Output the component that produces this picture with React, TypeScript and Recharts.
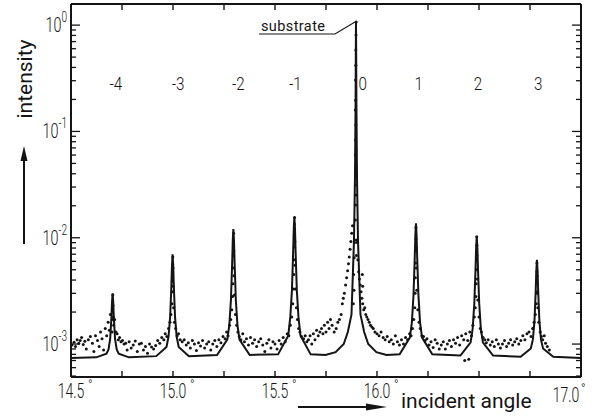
import React from 'react';
import { ComposedChart, Line, Scatter, XAxis, YAxis } from 'recharts';

// ---- specular (solid line) profile: [incident angle (deg), intensity]
const specularProfile: [number, number][] = [
  [14.5, 0.00074],
  [14.624, 0.00075], [14.674, 0.00081], [14.684, 0.00089], [14.692, 0.00112], [14.698, 0.00175], [14.701, 0.00247],
  [14.704, 0.003], [14.707, 0.00247], [14.71, 0.00175], [14.716, 0.00112], [14.724, 0.00089], [14.734, 0.00081], [14.784, 0.00075],
  [14.918, 0.00077], [14.968, 0.00094], [14.978, 0.00117], [14.986, 0.0018], [14.992, 0.0035], [14.995, 0.0055],
  [14.998, 0.007], [15.001, 0.0055], [15.004, 0.0035], [15.01, 0.0018], [15.018, 0.00117], [15.028, 0.00094], [15.078, 0.00077],
  [15.216, 0.00079], [15.266, 0.0011], [15.276, 0.0015], [15.284, 0.0026], [15.29, 0.0058], [15.293, 0.0094],
  [15.296, 0.0121], [15.299, 0.0094], [15.302, 0.0058], [15.308, 0.0026], [15.316, 0.0015], [15.326, 0.0011], [15.376, 0.00079],
  [15.515, 0.0008], [15.565, 0.0012], [15.575, 0.0018], [15.583, 0.0032], [15.589, 0.0074], [15.592, 0.0122],
  [15.595, 0.0157], [15.598, 0.0122], [15.601, 0.0074], [15.607, 0.0032], [15.615, 0.0018], [15.625, 0.0012], [15.675, 0.0008],
  [15.747, 0.00079], [15.797, 0.00084], [15.837, 0.001], [15.857, 0.0013], [15.875, 0.0019], [15.887, 0.0092], [15.892, 0.036],
  [15.895, 0.19], [15.896, 0.5], [15.897, 1.07], [15.898, 0.5], [15.899, 0.19], [15.902, 0.036], [15.907, 0.0092],
  [15.919, 0.0019], [15.937, 0.0013], [15.957, 0.001], [15.997, 0.00084], [16.047, 0.00079],
  [16.111, 0.0008], [16.161, 0.00115], [16.171, 0.0016], [16.179, 0.0029], [16.185, 0.0065], [16.188, 0.0106],
  [16.191, 0.0137], [16.194, 0.0106], [16.197, 0.0065], [16.203, 0.0029], [16.211, 0.0016], [16.221, 0.00115], [16.271, 0.0008],
  [16.409, 0.00078], [16.459, 0.00104], [16.469, 0.0014], [16.477, 0.0024], [16.483, 0.0051], [16.486, 0.0081],
  [16.489, 0.0104], [16.492, 0.0081], [16.495, 0.0051], [16.501, 0.0024], [16.509, 0.0014], [16.519, 0.00104], [16.569, 0.00078],
  [16.704, 0.00076], [16.754, 0.00091], [16.764, 0.0011], [16.772, 0.00165], [16.778, 0.0032], [16.781, 0.0049],
  [16.784, 0.0062], [16.787, 0.0049], [16.79, 0.0032], [16.796, 0.00165], [16.804, 0.0011], [16.814, 0.00091], [16.864, 0.00076],
  [17.0, 0.00074],
];

// ---- measured points (dots) incl. diffuse scattering
const measuredPoints: [number, number][] = [
  [14.505, 0.00098], [14.515, 0.00104], [14.522, 0.00095], [14.53, 0.0011], [14.538, 0.00102], [14.545, 0.00108],
  [14.552, 0.00115], [14.56, 0.00099], [14.568, 0.00106], [14.575, 0.0009], [14.585, 0.0011], [14.595, 0.00118],
  [14.605, 0.00102], [14.612, 0.00085], [14.62, 0.0012], [14.63, 0.00108], [14.638, 0.00095], [14.645, 0.0013],
  [14.652, 0.00112], [14.66, 0.00088], [14.668, 0.0014], [14.675, 0.0012], [14.682, 0.0016], [14.688, 0.00135], [14.693, 0.0019],
  [14.701, 0.0013], [14.702, 0.0017], [14.703, 0.0021], [14.704, 0.0025], [14.705, 0.0029], [14.706, 0.0023], [14.707, 0.0018], [14.709, 0.0015],
  [14.714, 0.0017], [14.72, 0.0013], [14.726, 0.00125], [14.732, 0.0011], [14.738, 0.00115], [14.745, 0.00105],
  [14.752, 0.00108], [14.76, 0.001], [14.768, 0.00102], [14.775, 0.00088], [14.785, 0.00105], [14.795, 0.00092],
  [14.805, 0.00098], [14.815, 0.00107], [14.825, 0.00085], [14.835, 0.001], [14.845, 0.00102], [14.855, 0.00088],
  [14.865, 0.00095], [14.875, 0.00082], [14.885, 0.001], [14.895, 0.00094], [14.905, 0.0009], [14.915, 0.00097],
  [14.925, 0.00108], [14.935, 0.00102], [14.945, 0.00115], [14.955, 0.0011], [14.962, 0.00125], [14.97, 0.00118],
  [14.978, 0.0014], [14.985, 0.0016], [14.99, 0.0019],
  [14.995, 0.0024], [14.996, 0.0031], [14.997, 0.0039], [14.998, 0.0047], [14.998, 0.0056], [14.999, 0.0066], [15.0, 0.0052], [15.001, 0.0035], [15.003, 0.0022],
  [15.007, 0.0016], [15.013, 0.0014], [15.02, 0.0012], [15.027, 0.00125], [15.035, 0.0011], [15.045, 0.00105],
  [15.055, 0.0011], [15.065, 0.00098], [15.075, 0.00103], [15.085, 0.00092], [15.095, 0.00108], [15.105, 0.001],
  [15.115, 0.00087], [15.125, 0.00103], [15.135, 0.00096], [15.145, 0.00108], [15.155, 0.00092], [15.165, 0.001],
  [15.175, 0.00105], [15.185, 0.00088], [15.195, 0.001], [15.205, 0.00108], [15.215, 0.00095], [15.225, 0.0011],
  [15.235, 0.00103], [15.245, 0.00118], [15.255, 0.00112], [15.263, 0.0013], [15.27, 0.0012], [15.277, 0.0015],
  [15.283, 0.0017], [15.288, 0.0021],
  [15.292, 0.0028], [15.294, 0.0037], [15.295, 0.0052], [15.296, 0.0068], [15.296, 0.0088], [15.297, 0.011], [15.298, 0.0075], [15.299, 0.0044], [15.301, 0.0029],
  [15.306, 0.0019], [15.312, 0.0015], [15.318, 0.0013], [15.325, 0.00118], [15.333, 0.0011], [15.342, 0.00125],
  [15.35, 0.00105], [15.36, 0.00112], [15.37, 0.00098], [15.38, 0.00115], [15.39, 0.00102], [15.4, 0.0011],
  [15.41, 0.00095], [15.42, 0.00105], [15.43, 0.00112], [15.44, 0.00098], [15.45, 0.00085], [15.46, 0.00102],
  [15.47, 0.0011], [15.48, 0.00092], [15.49, 0.00105], [15.5, 0.001], [15.51, 0.0009], [15.52, 0.00108],
  [15.53, 0.001], [15.54, 0.00115], [15.55, 0.00105], [15.56, 0.00125], [15.568, 0.0012], [15.575, 0.0015],
  [15.582, 0.0018], [15.587, 0.0024],
  [15.591, 0.0033], [15.592, 0.0045], [15.593, 0.0062], [15.594, 0.0082], [15.595, 0.0105], [15.595, 0.0135], [15.596, 0.0155], [15.597, 0.0092], [15.598, 0.0055], [15.6, 0.0033],
  [15.605, 0.0022], [15.61, 0.0017], [15.616, 0.0014], [15.622, 0.0013], [15.63, 0.00118], [15.64, 0.00112],
  [15.648, 0.0012], [15.656, 0.00105], [15.664, 0.0011], [15.672, 0.0012], [15.68, 0.001], [15.688, 0.00125],
  [15.696, 0.0011], [15.704, 0.00135], [15.712, 0.0012], [15.72, 0.0013], [15.728, 0.0014], [15.735, 0.00125],
  [15.742, 0.0015], [15.75, 0.0013], [15.758, 0.0016], [15.765, 0.0014], [15.772, 0.0017], [15.78, 0.0015],
  [15.79, 0.0013], [15.8, 0.0014], [15.808, 0.0016], [15.816, 0.0017], [15.824, 0.0019], [15.83, 0.0024],
  [15.835, 0.0027], [15.84, 0.003], [15.846, 0.0036], [15.851, 0.0042], [15.856, 0.0049], [15.86, 0.0057],
  [15.864, 0.0066], [15.868, 0.0078], [15.872, 0.0092], [15.876, 0.011], [15.88, 0.013],
  [15.884, 0.0024], [15.885, 0.0045], [15.887, 0.0032], [15.888, 0.0065], [15.89, 0.009],
  [15.894, 0.0147], [15.895, 0.0203], [15.897, 0.0252], [15.894, 0.0313], [15.895, 0.0434], [15.894, 0.06],
  [15.895, 0.083], [15.896, 0.115], [15.894, 0.159], [15.895, 0.197], [15.895, 0.305], [15.896, 0.42],
  [15.896, 0.583], [15.897, 0.807], [15.898, 1.07], [15.898, 0.0095], [15.899, 0.0068],
  [15.903, 0.009], [15.906, 0.0062], [15.91, 0.0048], [15.914, 0.0041], [15.918, 0.0036], [15.922, 0.0031],
  [15.926, 0.0027], [15.928, 0.0045], [15.93, 0.0035], [15.93, 0.0024], [15.935, 0.0021], [15.94, 0.0022],
  [15.945, 0.0019], [15.95, 0.0018], [15.956, 0.0017], [15.962, 0.0016], [15.968, 0.0015], [15.975, 0.00145],
  [15.982, 0.0014], [15.99, 0.0013], [16.0, 0.00125], [16.01, 0.0012], [16.02, 0.0013], [16.03, 0.00115],
  [16.04, 0.0011], [16.05, 0.00118], [16.06, 0.00105], [16.07, 0.0011], [16.08, 0.001], [16.09, 0.0012],
  [16.1, 0.00105], [16.11, 0.00098], [16.12, 0.0011], [16.13, 0.001], [16.14, 0.00115], [16.15, 0.0011],
  [16.16, 0.00125], [16.167, 0.0012], [16.174, 0.0014], [16.18, 0.0017], [16.185, 0.0022],
  [16.187, 0.003], [16.188, 0.0042], [16.189, 0.0058], [16.19, 0.0076], [16.191, 0.0098], [16.191, 0.0125], [16.192, 0.008], [16.193, 0.0052], [16.195, 0.0032],
  [16.2, 0.0021], [16.206, 0.0016], [16.212, 0.0014], [16.22, 0.0012], [16.228, 0.00118], [16.236, 0.00108],
  [16.245, 0.00112], [16.255, 0.00098], [16.265, 0.00105], [16.275, 0.00093], [16.285, 0.0011], [16.295, 0.00102],
  [16.305, 0.0009], [16.315, 0.00098], [16.325, 0.00105], [16.335, 0.0009], [16.345, 0.001], [16.355, 0.00108],
  [16.365, 0.00095], [16.375, 0.0011], [16.385, 0.00102], [16.395, 0.00115], [16.405, 0.00098], [16.415, 0.0012],
  [16.425, 0.0011], [16.435, 0.00125], [16.445, 0.00108], [16.455, 0.0013], [16.463, 0.0012], [16.47, 0.0015],
  [16.477, 0.0018], [16.482, 0.0022], [16.43, 0.0007], [16.45, 0.00072],
  [16.485, 0.0028], [16.486, 0.0037], [16.487, 0.005], [16.488, 0.0065], [16.489, 0.0085], [16.489, 0.0102], [16.49, 0.0068], [16.492, 0.0041], [16.494, 0.0026],
  [16.5, 0.0018], [16.506, 0.0014], [16.512, 0.0013], [16.52, 0.00115], [16.528, 0.0011], [16.536, 0.00103],
  [16.545, 0.0011], [16.555, 0.00098], [16.565, 0.00105], [16.575, 0.00095], [16.585, 0.0011], [16.595, 0.001],
  [16.605, 0.00092], [16.615, 0.001], [16.625, 0.00108], [16.635, 0.00095], [16.645, 0.00102], [16.655, 0.0011],
  [16.665, 0.00098], [16.675, 0.00105], [16.685, 0.00112], [16.695, 0.001], [16.705, 0.00108], [16.715, 0.0012],
  [16.725, 0.0011], [16.735, 0.00125], [16.745, 0.0013], [16.755, 0.00118], [16.763, 0.0014], [16.77, 0.0016], [16.776, 0.0019],
  [16.781, 0.0024], [16.782, 0.003], [16.783, 0.0039], [16.784, 0.0048], [16.784, 0.0058], [16.785, 0.0044], [16.786, 0.0031], [16.788, 0.0022],
  [16.793, 0.0016], [16.8, 0.0013], [16.806, 0.00118], [16.812, 0.0011], [16.82, 0.0012], [16.826, 0.00102],
  [16.835, 0.00095], [16.845, 0.00088],
];

// ---- diffraction order labels
const orderLabels = ['-4', '-3', '-2', '-1', '0', '1', '2', '3'];
const orderLabelAngles = [14.72, 15.025, 15.32, 15.6, 15.93, 16.205, 16.495, 16.79];
const orderLabelLevel = 0.245;

// ---- substrate annotation anchor
const substratePeak = { x: 15.897, y: 1.07 };

// ---- axes
const xTicks = [14.5, 14.75, 15, 15.25, 15.5, 15.75, 16, 16.25, 16.5, 16.75, 17];
const xTickLabels = ['14.5', '', '15.0', '', '15.5', '', '16.0', '', '', '', '17.0'];
const yMajorTicks = [0.001, 0.01, 0.1, 1];
const yMajorExponents = ['-3', '-2', '-1', '0'];
const yMinorTicks = [
  0.0005, 0.0006, 0.0007, 0.0008, 0.0009,
  0.002, 0.003, 0.004, 0.005, 0.006, 0.007, 0.008, 0.009,
  0.02, 0.03, 0.04, 0.05, 0.06, 0.07, 0.08, 0.09,
  0.2, 0.3, 0.4, 0.5, 0.6, 0.7, 0.8, 0.9,
];
const yTicks = [...yMinorTicks, ...yMajorTicks].sort((a, b) => a - b);

const xDomain: [number, number] = [14.5, 17.0];
const yDomain: [number, number] = [0.00049, 1.58];

const INK = '#141414';
const FONT = 'Roboto, "DejaVu Sans", sans-serif';

const lineData = specularProfile.map(([x, y]) => ({ x, y }));
const dotData = measuredPoints.map(([x, y]) => ({ x, y }));
const labelData = orderLabels.map((t, i) => ({ x: orderLabelAngles[i], y: orderLabelLevel, t }));
const substrateData = [substratePeak];

function majorIndex(v: number) {
  return yMajorTicks.findIndex((m) => Math.abs(m - v) / m < 1e-6);
}

function BottomTick(props: any) {
  const { x, y, payload } = props;
  const i = xTicks.indexOf(payload.value);
  const label = xTickLabels[i] || '';
  const isEnd = payload.value === 17;
  const lx = isEnd ? x - 15 : x;
  const ly = isEnd ? y + 25 : y + 21;
  return (
    <g>
      <line x1={x} x2={x} y1={y} y2={y - 6} stroke={INK} strokeWidth={1.4} />
      {label && (
        <g transform={`translate(${lx},${ly})`}>
          <text transform="scale(0.7,1)" textAnchor="middle" fontSize={20} fontFamily={FONT} fontWeight={300} fill={INK}>
            {label}
          </text>
          <text x={isEnd ? 15 : 17} y={-9} fontSize={12} fontFamily={FONT} fontWeight={300} fill={INK}>°</text>
        </g>
      )}
    </g>
  );
}

function TopTick(props: any) {
  const { x, y } = props;
  return <line x1={x} x2={x} y1={y} y2={y + 6} stroke={INK} strokeWidth={1.4} />;
}

function LeftTick(props: any) {
  const { x, y, payload } = props;
  const mi = majorIndex(payload.value);
  const major = mi >= 0;
  return (
    <g>
      <line x1={x} x2={x + (major ? 9 : 5)} y1={y} y2={y} stroke={INK} strokeWidth={1.3} />
      {major && (
        <g transform={`translate(${x - 4},${y + 7})`}>
          <text transform="scale(0.72,1)" textAnchor="end" fontSize={20} fontFamily={FONT} fontWeight={300} fill={INK}>
            10
            <tspan fontSize={14} dy={-10}>{yMajorExponents[mi]}</tspan>
          </text>
        </g>
      )}
    </g>
  );
}

function RightTick(props: any) {
  const { x, y, payload } = props;
  const major = majorIndex(payload.value) >= 0;
  return <line x1={x} x2={x - (major ? 9 : 5)} y1={y} y2={y} stroke={INK} strokeWidth={1.3} />;
}

function Dot(props: any) {
  const { cx, cy } = props;
  if (cx == null || cy == null) return null;
  return <circle cx={cx} cy={cy} r={1.5} fill={INK} />;
}

function OrderLabel(props: any) {
  const { cx, cy, payload } = props;
  return (
    <g transform={`translate(${cx},${cy})`}>
      <text transform="scale(0.8,1)" textAnchor="middle" fontSize={19} fontFamily={FONT} fontWeight={300} fill={INK}>
        {payload.t}
      </text>
    </g>
  );
}

function SubstrateNote(props: any) {
  const { cx, cy } = props;
  return (
    <g>
      <polyline
        points={`${cx - 1},${cy} ${cx - 21},${cy + 12} ${cx - 97},${cy + 12}`}
        fill="none"
        stroke={INK}
        strokeWidth={1.1}
      />
      <text x={cx - 95} y={cy + 9} fontSize={14.5} fontFamily={FONT} fontWeight={400} fill={INK} letterSpacing={0.4}>
        substrate
      </text>
    </g>
  );
}

export default function App() {
  return (
    <div style={{ position: 'absolute', left: 0, top: 0, width: 605, height: 419, background: '#fff' }}>
      <ComposedChart width={605} height={419} margin={{ top: 3, right: 23, bottom: 0, left: 0 }}>
        <XAxis
          xAxisId="b"
          dataKey="x"
          type="number"
          domain={xDomain}
          ticks={xTicks}
          interval={0}
          tickSize={0}
          tickMargin={0}
          tickLine={false}
          tick={<BottomTick />}
          axisLine={{ stroke: INK, strokeWidth: 2 }}
          height={42}
          allowDataOverflow
        />
        <XAxis
          xAxisId="t"
          orientation="top"
          dataKey="x"
          type="number"
          domain={xDomain}
          ticks={xTicks}
          interval={0}
          tickSize={0}
          tickMargin={0}
          tickLine={false}
          tick={<TopTick />}
          axisLine={{ stroke: INK, strokeWidth: 2 }}
          height={1}
          allowDataOverflow
        />
        <YAxis
          yAxisId="l"
          dataKey="y"
          type="number"
          scale="log"
          domain={yDomain}
          ticks={yTicks}
          interval={0}
          tickSize={0}
          tickMargin={0}
          tickLine={false}
          tick={<LeftTick />}
          axisLine={{ stroke: INK, strokeWidth: 2 }}
          width={71}
          allowDataOverflow
        />
        <YAxis
          yAxisId="r"
          orientation="right"
          dataKey="y"
          type="number"
          scale="log"
          domain={yDomain}
          ticks={yTicks}
          interval={0}
          tickSize={0}
          tickMargin={0}
          tickLine={false}
          tick={<RightTick />}
          axisLine={{ stroke: INK, strokeWidth: 2 }}
          width={1}
          allowDataOverflow
        />
        <Line
          xAxisId="b"
          yAxisId="l"
          data={lineData}
          dataKey="y"
          type="linear"
          stroke={INK}
          strokeWidth={2}
          dot={false}
          activeDot={false}
          isAnimationActive={false}
        />
        <Scatter xAxisId="b" yAxisId="l" data={dotData} dataKey="y" shape={<Dot />} isAnimationActive={false} />
        <Scatter xAxisId="t" yAxisId="r" data={labelData} dataKey="y" shape={<OrderLabel />} isAnimationActive={false} />
        <Scatter xAxisId="t" yAxisId="r" data={substrateData} dataKey="y" shape={<SubstrateNote />} isAnimationActive={false} />
      </ComposedChart>
      <svg width={605} height={419} style={{ position: 'absolute', left: 0, top: 0, pointerEvents: 'none' }}>
        <text
          transform="translate(32,79) rotate(-90)"
          textAnchor="middle"
          fontSize={21}
          fontFamily={FONT}
          fontWeight={400}
          fill={INK}
        >
          intensity
        </text>
        <line x1={24} y1={244} x2={24} y2={158} stroke={INK} strokeWidth={2} />
        <polygon points="24,146 20.5,161 27.5,161" fill={INK} />
        <line x1={298} y1={407} x2={372} y2={407} stroke={INK} strokeWidth={2} />
        <polygon points="387,407 366,403.5 366,410.5" fill={INK} />
        <text x={401} y={408} fontSize={21} fontFamily={FONT} fontWeight={400} fill={INK}>
          incident angle
        </text>
      </svg>
    </div>
  );
}
